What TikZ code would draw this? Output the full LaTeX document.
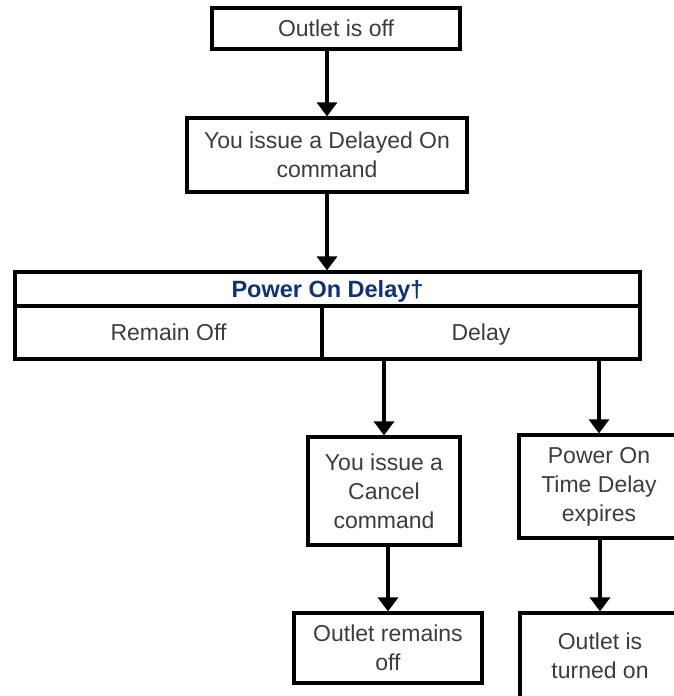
\documentclass[tikz,border=0pt]{standalone}
\usepackage{fontspec}
\setmainfont{Liberation Sans}
\usetikzlibrary{arrows.meta}
\definecolor{txtgray}{RGB}{60,60,60}
\definecolor{navyblue}{RGB}{14,50,122}
\begin{document}
\begin{tikzpicture}[x=1pt,y=-1pt,
  box/.style={draw=black, line width=3.3pt, rectangle, inner sep=0pt, align=center,
    text=txtgray, font=\fontsize{23}{29}\selectfont},
  oneline/.style={text height=16.5pt, text depth=0pt},
  titlebox/.style={box, oneline, text=navyblue, font=\bfseries\fontsize{23.5}{27}\selectfont},
  arr/.style={line width=3.3pt, -{Triangle[width=20pt,length=14pt]}}]
\useasboundingbox (0,0) rectangle (674,696);
\clip (0,0) rectangle (674,696);
\node[box, oneline, minimum width=248pt, minimum height=41pt] (off) at (336,28.5) {Outlet is off};
\node[box, minimum width=280pt, minimum height=74pt] (delayed) at (327,155) {You issue a Delayed On\\command};
\node[titlebox, minimum width=625pt, minimum height=34pt] (title) at (327.5,289) {Power On Delay†};
\node[box, oneline, minimum width=307pt, minimum height=53pt] (remain) at (168.5,332.5) {Remain Off};
\node[box, oneline, minimum width=318pt, minimum height=53pt] (delay) at (481,332.5) {Delay};
\node[box, minimum width=152pt, minimum height=108pt] (cancel) at (384,491) {You issue a\\Cancel\\command};
\node[box, minimum width=160pt, minimum height=103pt] (expires) at (599,486.5) {Power On\\Time Delay\\expires};
\node[box, minimum width=188pt, minimum height=70pt] (remains) at (388,648) {Outlet remains\\off};
\node[box, minimum width=160pt, minimum height=86pt] (on) at (600,656) {Outlet is\\turned on};
\draw[arr] (off.south -| delayed.north) -- (delayed.north);
\draw[arr] (delayed.south) -- (delayed.south |- title.north);
\draw[arr] (cancel.north |- delay.south) -- (cancel.north);
\draw[arr] (expires.north |- delay.south) -- (expires.north);
\draw[arr] (cancel.south -| remains.north) -- (remains.north);
\draw[arr] (expires.south -| on.north) -- (on.north);
\end{tikzpicture}
\end{document}
